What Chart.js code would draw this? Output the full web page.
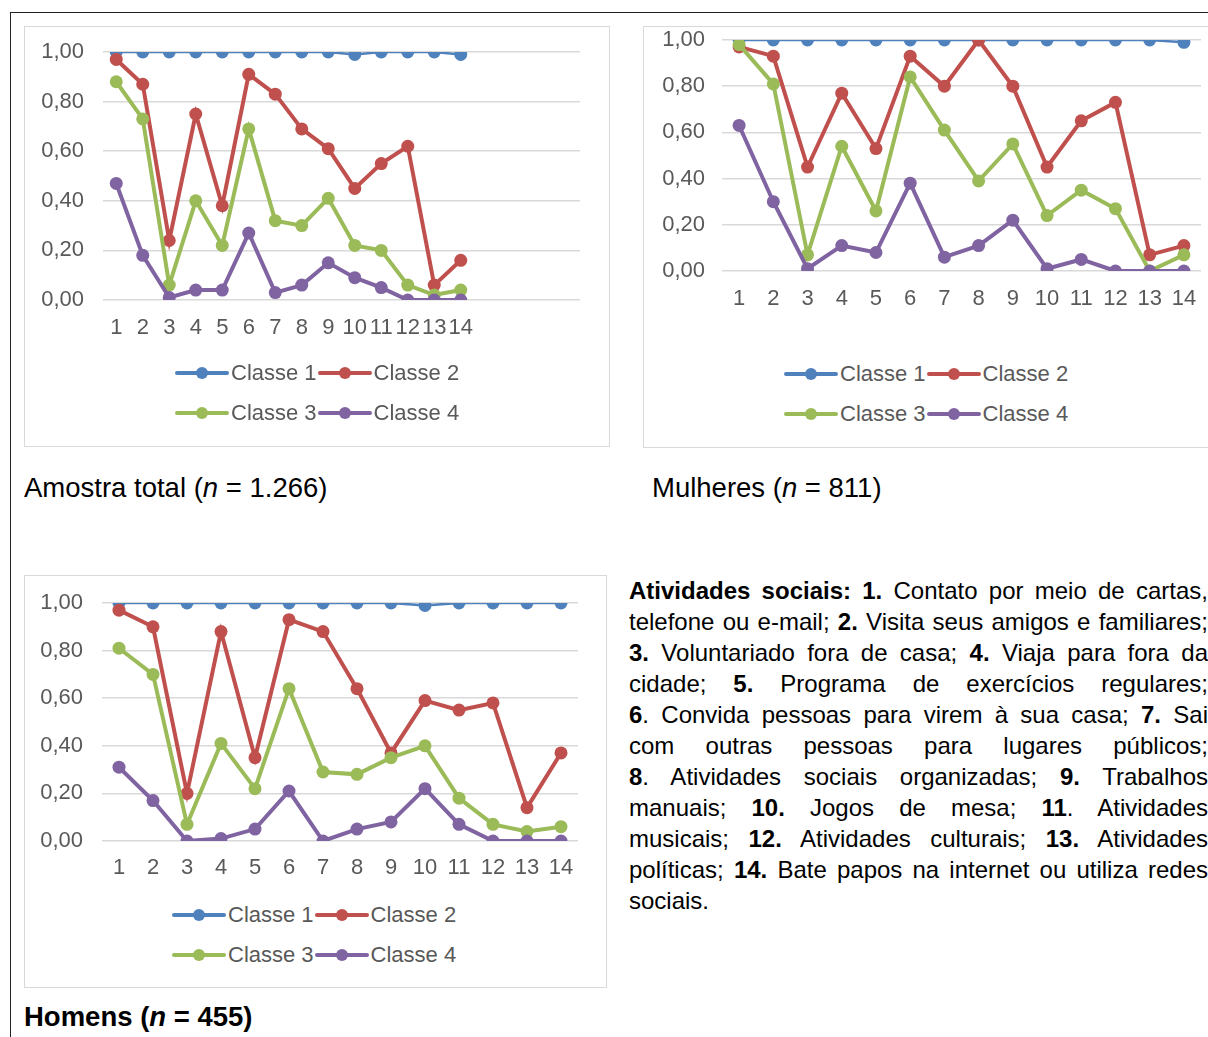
<!DOCTYPE html>
<html>
<head>
<meta charset="utf-8">
<script src="https://cdn.jsdelivr.net/npm/chart.js@4.4.0/dist/chart.umd.min.js"></script>
<style>
body{margin:0;width:1208px;height:1037px;overflow:hidden;background:#fff;font-family:"Liberation Sans",Arial,sans-serif;position:relative}
.frame{position:absolute;left:10px;top:12px;width:1400px;height:1200px;border:1.5px solid #222}
.box{position:absolute;border:1.5px solid #d9d9d9;background:#fff}
canvas{position:absolute}
.legend{position:absolute;font-size:22px;color:#595959}
.row{display:flex;height:40px;align-items:center}
.item{display:flex;align-items:center}
.sample{position:relative;width:54px;height:14px;margin-right:2px}
.sample i{position:absolute;left:0;right:0;top:5px;height:4px;border-radius:2px}
.sample b{position:absolute;left:21px;top:1px;width:12px;height:12px;border-radius:50%}
.txt{margin-right:1px}
.cap{position:absolute;font-size:27.5px;color:#000;line-height:32px;white-space:nowrap}
.notes{position:absolute;left:629px;top:575px;width:579px;font-size:24px;line-height:31px;color:#000}
.notes div{text-align:justify;text-align-last:justify}
.notes div.last{text-align-last:left}
</style>
</head>
<body>
<div class="frame"></div>

<div class="box" style="left:24px;top:26px;width:584px;height:419px"></div>
<div class="box" style="left:643px;top:26px;width:600px;height:420px"></div>
<div class="box" style="left:24px;top:575px;width:581px;height:411px"></div>

<canvas id="chart1" width="584" height="330" style="left:24px;top:26px"></canvas>
<canvas id="chart2" width="565" height="300" style="left:643px;top:26px"></canvas>
<canvas id="chart3" width="581" height="320" style="left:24px;top:575px"></canvas>

<div class="legend" id="leg1" style="left:175px;top:353px"></div>
<div class="legend" id="leg2" style="left:784px;top:354px"></div>
<div class="legend" id="leg3" style="left:172px;top:895px"></div>

<div class="cap" style="left:24px;top:472px">Amostra total (<i>n</i> = 1.266)</div>
<div class="cap" style="left:652px;top:472px">Mulheres (<i>n</i> = 811)</div>
<div class="cap" style="left:24px;top:1001px;font-weight:bold">Homens (<i>n</i> = 455)</div>

<div class="notes">
<div><b>Atividades sociais: 1.</b> Contato por meio de cartas,</div>
<div>telefone ou e-mail; <b>2.</b> Visita seus amigos e familiares;</div>
<div><b>3.</b> Voluntariado fora de casa; <b>4.</b> Viaja para fora da</div>
<div>cidade; <b>5.</b> Programa de exercícios regulares;</div>
<div><b>6</b>. Convida pessoas para virem à sua casa; <b>7.</b> Sai</div>
<div>com outras pessoas para lugares públicos;</div>
<div><b>8</b>. Atividades sociais organizadas; <b>9.</b> Trabalhos</div>
<div>manuais; <b>10.</b> Jogos de mesa; <b>11</b>. Atividades</div>
<div>musicais; <b>12.</b> Atividades culturais; <b>13.</b> Atividades</div>
<div>políticas; <b>14.</b> Bate papos na internet ou utiliza redes</div>
<div class="last">sociais.</div>
</div>

<script>
// atividades 1..14
var xLabels = [1, 2, 3, 4, 5, 6, 7, 8, 9, 10, 11, 12, 13, 14];
var yTicks = [0, 0.2, 0.4, 0.6, 0.8, 1.0];
var seriesNames = ["Classe 1", "Classe 2", "Classe 3", "Classe 4"];
var seriesColors = ["#4F81BD", "#C0504D", "#9BBB59", "#8064A2"];

// Amostra total (n = 1.266)
var totalC1 = [1.00, 1.00, 1.00, 1.00, 1.00, 1.00, 1.00, 1.00, 1.00, 0.99, 1.00, 1.00, 1.00, 0.99];
var totalC2 = [0.97, 0.87, 0.24, 0.75, 0.38, 0.91, 0.83, 0.69, 0.61, 0.45, 0.55, 0.62, 0.06, 0.16];
var totalC3 = [0.88, 0.73, 0.06, 0.40, 0.22, 0.69, 0.32, 0.30, 0.41, 0.22, 0.20, 0.06, 0.02, 0.04];
var totalC4 = [0.47, 0.18, 0.01, 0.04, 0.04, 0.27, 0.03, 0.06, 0.15, 0.09, 0.05, 0.00, 0.00, 0.00];

// Mulheres (n = 811)
var mulheresC1 = [1.00, 1.00, 1.00, 1.00, 1.00, 1.00, 1.00, 1.00, 1.00, 1.00, 1.00, 1.00, 1.00, 0.99];
var mulheresC2 = [0.97, 0.93, 0.45, 0.77, 0.53, 0.93, 0.80, 1.00, 0.80, 0.45, 0.65, 0.73, 0.07, 0.11];
var mulheresC3 = [0.98, 0.81, 0.07, 0.54, 0.26, 0.84, 0.61, 0.39, 0.55, 0.24, 0.35, 0.27, 0.00, 0.07];
var mulheresC4 = [0.63, 0.30, 0.01, 0.11, 0.08, 0.38, 0.06, 0.11, 0.22, 0.01, 0.05, 0.00, 0.00, 0.00];

// Homens (n = 455)
var homensC1 = [1.00, 1.00, 1.00, 1.00, 1.00, 1.00, 1.00, 1.00, 1.00, 0.99, 1.00, 1.00, 1.00, 1.00];
var homensC2 = [0.97, 0.90, 0.20, 0.88, 0.35, 0.93, 0.88, 0.64, 0.37, 0.59, 0.55, 0.58, 0.14, 0.37];
var homensC3 = [0.81, 0.70, 0.07, 0.41, 0.22, 0.64, 0.29, 0.28, 0.35, 0.40, 0.18, 0.07, 0.04, 0.06];
var homensC4 = [0.31, 0.17, 0.00, 0.01, 0.05, 0.21, 0.00, 0.05, 0.08, 0.22, 0.07, 0.00, 0.00, 0.00];

Chart.defaults.font.family = "'Liberation Sans', Arial, sans-serif";
Chart.defaults.color = "#595959";

function makeChart(id, series, o) {
    var datasets = series.map(function (vals, i) {
        return {
            label: seriesNames[i],
            data: xLabels.map(function (x, k) { return {x: x, y: vals[k]}; }),
            borderColor: seriesColors[i],
            backgroundColor: seriesColors[i],
            borderWidth: i === 0 ? 2.5 : 4,
            pointRadius: 6.5,
            pointBorderWidth: 0,
            pointBackgroundColor: seriesColors[i],
            tension: 0,
            order: 3 - i
        };
    });

    new Chart(document.getElementById(id), {
        type: "line",
        data: {datasets: datasets},
        options: {
            responsive: false,
            animation: false,
            devicePixelRatio: 1,
            layout: {autoPadding: false, padding: {left: 0, right: o.right, top: o.top, bottom: 0}},
            plugins: {legend: {display: false}, tooltip: {enabled: false}},
            scales: {
                x: {
                    type: "linear",
                    min: 0.5,
                    max: o.xMax,
                    afterBuildTicks: function (s) { s.ticks = xLabels.map(function (v) { return {value: v}; }); },
                    afterFit: function (s) {
                        s.height = o.xHeight;
                        s.paddingLeft = 0;
                        s.paddingRight = 0;
                    },
                    grid: {display: false, drawTicks: false},
                    border: {display: false},
                    ticks: {autoSkip: false, maxRotation: 0, padding: o.xPad, font: {size: 22}, color: "#595959"}
                },
                y: {
                    min: 0,
                    max: 1,
                    afterBuildTicks: function (s) { s.ticks = yTicks.map(function (v) { return {value: v}; }); },
                    afterFit: function (s) {
                        s.width = o.yWidth;
                        s.paddingTop = 0;
                        s.paddingBottom = 0;
                    },
                    grid: {color: "#d9d9d9", lineWidth: 1.5, drawTicks: false},
                    border: {display: false},
                    ticks: {
                        padding: o.yPad,
                        font: {size: 22},
                        color: "#595959",
                        callback: function (v) { return v.toFixed(2).replace(".", ","); }
                    }
                }
            }
        }
    });
}

function makeLegend(id) {
    var el = document.getElementById(id);
    var html = "";
    for (var r = 0; r < 2; r++) {
        html += '<div class="row">';
        for (var c = 0; c < 2; c++) {
            var i = r * 2 + c;
            html += '<div class="item"><span class="sample"><i style="background:' + seriesColors[i] +
                '"></i><b style="background:' + seriesColors[i] + '"></b></span><span class="txt">' +
                seriesNames[i] + '</span></div>';
        }
        html += '</div>';
    }
    el.innerHTML = html;
}

makeChart("chart1", [totalC1, totalC2, totalC3, totalC4],
    {xMax: 18.5, right: 28, top: 26, xHeight: 56, xPad: 15, yWidth: 79, yPad: 19});
makeChart("chart2", [mulheresC1, mulheresC2, mulheresC3, mulheresC4],
    {xMax: 14.5, right: 7, top: 14, xHeight: 55, xPad: 15, yWidth: 79, yPad: 17});
makeChart("chart3", [homensC1, homensC2, homensC3, homensC4],
    {xMax: 14.5, right: 27, top: 28, xHeight: 54, xPad: 14, yWidth: 78, yPad: 19});

makeLegend("leg1");
makeLegend("leg2");
makeLegend("leg3");
</script>
</body>
</html>
